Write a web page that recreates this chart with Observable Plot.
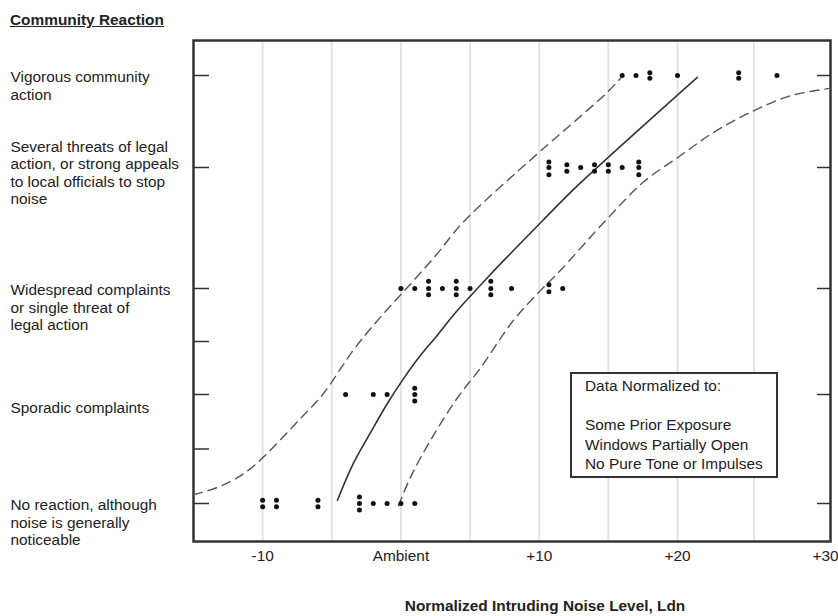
<!DOCTYPE html>
<html>
<head>
<meta charset="utf-8">
<script src="https://cdn.jsdelivr.net/npm/d3@7"></script>
<script src="https://cdn.jsdelivr.net/npm/@observablehq/plot@0.6"></script>
<style>
  body { margin: 0; background: #fff; }
  #wrap { position: relative; width: 838px; height: 616px; font-family: "Liberation Sans", Arial, sans-serif; color: #222; }
  #heading { position: absolute; left: 10px; top: 11px; font-size: 15.4px; font-weight: bold; text-decoration: underline; line-height: 18px; white-space: nowrap; }
  #note { position: absolute; left: 570px; top: 372px; width: 191px; height: 100px; border: 2px solid #333;
          padding: 2px 0 0 13px; font-size: 15.4px; line-height: 19.5px; white-space: pre; background: #fff; }
</style>
</head>
<body>
<div id="wrap"></div>
<script>
// ---- Data ----
// Reaction levels: 0 = none ... 4 = vigorous
const reactionLabels = [
  "No reaction, although\nnoise is generally\nnoticeable",
  "Sporadic complaints",
  "Widespread complaints\nor single threat of\nlegal action",
  "Several threats of legal\naction, or strong appeals\nto local officials to stop\nnoise",
  "Vigorous community\naction"
];
// Case observations per reaction level: normalized Ldn (dB re ambient) and number of stacked cases
const noneX = [-10, -9, -6, -3, -2, -1, 0, 1];
const noneN = [2, 2, 2, 3, 1, 1, 1, 1];
const sporadicX = [-4, -2, -1, 1];
const sporadicN = [1, 1, 1, 3];
const widespreadX = [0, 1, 2, 3, 4, 5, 6.5, 8, 10.7, 11.7];
const widespreadN = [1, 1, 3, 1, 3, 1, 3, 1, 2, 1];
const threatsX = [10.7, 12, 13, 14, 15, 16, 17.2];
const threatsN = [3, 2, 1, 2, 2, 1, 3];
const vigorousX = [16, 17, 18, 20, 24, 26.5];
const vigorousN = [1, 1, 2, 1, 2, 1];

// Fitted curve and bounds (reaction level vs normalized Ldn)
const meanX = [-4.59, -3.43, -2.2, -0.97, 0.19, 1.42, 2.64, 3.8, 5.03, 6.26, 7.42, 10.24, 12.77, 21.3];
const meanY = [0.03, 0.37, 0.65, 0.92, 1.15, 1.37, 1.56, 1.75, 1.93, 2.09, 2.23, 2.56, 2.85, 3.98];
const upperX = [-15, -12.83, -10.88, -7.26, -5.6, -3.43, -1.48, 0.48, 2.5, 4.52, 9.88, 12.48, 14.94, 15.88];
const upperY = [0.08, 0.17, 0.32, 0.78, 1.01, 1.42, 1.73, 2.01, 2.27, 2.55, 3.15, 3.49, 3.82, 3.97];
const lowerX = [-0.18, 0.69, 2.14, 4.09, 5.75, 8.14, 10.09, 11.54, 14.79, 17.54, 20.2, 22.35, 24.77, 27.39, 30];
const lowerY = [-0.02, 0.24, 0.58, 0.97, 1.25, 1.70, 1.98, 2.15, 2.56, 2.88, 3.13, 3.38, 3.60, 3.78, 3.86];

// Axis ticks
const xTicks = [-10, 0, 10, 20];
const xTickLast = [30];
const gridX = [-10, -5, 0, 5, 10, 15, 20, 25];
const yTicksLeft = [0, 0.5, 1, 1.5, 2, 3, 4];
const yTicksRight = [0, 1, 2, 3, 4];

const noteLines = ["Data Normalized to:", "", "Some Prior Exposure", "Windows Partially Open", "No Pure Tone or Impulses"];
const title = "Community Reaction";
const xTitle = "Normalized Intruding Noise Level, Ldn";

// ---- Build tables ----
const groups = [[noneX, noneN, 0], [sporadicX, sporadicN, 1], [widespreadX, widespreadN, 2], [threatsX, threatsN, 3], [vigorousX, vigorousN, 4]];
const obs = [];
for (const [xs, ns, level] of groups) {
  xs.forEach((x, j) => {
    const n = ns[j];
    for (let i = 0; i < n; i++) obs.push({x, level, y: level + (i - (n - 1) / 2) * 0.06});
  });
}
const toPts = (xs, ys) => xs.map((x, i) => ({x, y: ys[i]}));
const mean = toPts(meanX, meanY);
const upper = toPts(upperX, upperY);
const lower = toPts(lowerX, lowerY);
const labels = reactionLabels.map((text, level) => ({text, level}));

const fmt = d => d === 0 ? "Ambient" : d > 0 ? "+" + d : String(d);

const plot = Plot.plot({
  width: 838,
  height: 616,
  marginLeft: 193,
  marginRight: 8,
  marginTop: 40,
  marginBottom: 75,
  style: {fontFamily: "'Liberation Sans', Arial, sans-serif", fontSize: "15.4px", color: "#222", background: "#fff"},
  x: {type: "linear", domain: [-15, 20, 30], range: [193, 677, 830]},
  y: {type: "linear", domain: [-0.35, 0, 1, 2, 3, 4, 4.38], range: [541, 503, 394, 288, 167, 75, 40]},
  marks: [
    Plot.ruleX(gridX, {stroke: "#e3e3e3", strokeWidth: 2}),
    Plot.frame({stroke: "#333", strokeWidth: 2.5}),
    Plot.axisY(yTicksLeft, {anchor: "left", tickSize: -16, tickFormat: () => "", label: null, stroke: "#333", strokeWidth: 1.5}),
    Plot.axisY(yTicksRight, {anchor: "right", tickSize: -14, tickFormat: () => "", label: null, stroke: "#333", strokeWidth: 1.5}),
    Plot.axisX(xTicks, {anchor: "bottom", tickSize: 0, tickPadding: 9, tickFormat: fmt, label: null, fontSize: 15.4}),
    Plot.axisX(xTickLast, {anchor: "bottom", tickSize: 0, tickPadding: 9, tickFormat: fmt, label: null, fontSize: 15.4, textAnchor: "end", dx: 8}),
    Plot.line(upper, {x: "x", y: "y", curve: "catmull-rom", stroke: "#555", strokeWidth: 1.4, strokeDasharray: "9,6"}),
    Plot.line(lower, {x: "x", y: "y", curve: "catmull-rom", stroke: "#555", strokeWidth: 1.4, strokeDasharray: "9,6"}),
    Plot.line(mean, {x: "x", y: "y", curve: "catmull-rom", stroke: "#333", strokeWidth: 1.6}),
    Plot.dot(obs, {x: "x", y: "y", r: 2.5, fill: "#111"}),
    // reaction category labels in the left margin
    Plot.text(labels.filter(d => [0, 2, 4].includes(d.level)), {frameAnchor: "left", y: "level", text: "text", dx: -183, dy: -6, textAnchor: "start", lineAnchor: "top", lineHeight: 1.14, fontSize: 15.4}),
    Plot.text(labels.filter(d => d.level === 3), {frameAnchor: "left", y: "level", text: "text", dx: -183, dy: 5, textAnchor: "start", lineAnchor: "middle", lineHeight: 1.14, fontSize: 15.4}),
    Plot.text(labels.filter(d => d.level === 1), {frameAnchor: "left", y: "level", text: "text", dx: -183, dy: 14, textAnchor: "start", lineAnchor: "middle", fontSize: 15.4}),
    Plot.text([xTitle], {frameAnchor: "bottom", dx: 33, dy: 65, lineAnchor: "middle", fontWeight: "bold", fontSize: 15.4})
  ]
});

const wrap = document.getElementById("wrap");
wrap.appendChild(plot);

// heading
const heading = document.createElement("div");
heading.id = "heading";
heading.textContent = title;
wrap.appendChild(heading);

// note box
const note = document.createElement("div");
note.id = "note";
note.textContent = noteLines.join("\n");
wrap.appendChild(note);
</script>
</body>
</html>
